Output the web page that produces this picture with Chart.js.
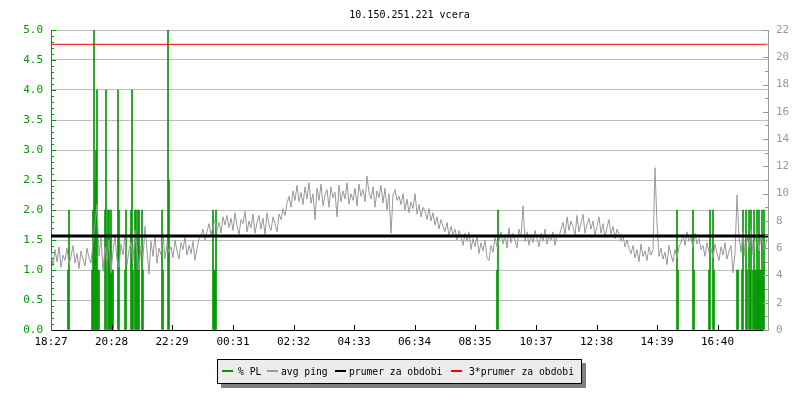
<!DOCTYPE html>
<html><head><meta charset="utf-8">
<script src="https://cdn.jsdelivr.net/npm/chart.js@4"></script>
<style>
html,body{margin:0;padding:0;background:#fff;}
#wrap{position:relative;width:800px;height:400px;}
#c{position:absolute;left:0;top:0;}
#legend{position:absolute;left:217px;top:359px;width:363px;height:23px;border:1px solid #000;background:#ececec;box-shadow:4px 4px 0 #808080;font:9.7px 'DejaVu Sans Mono',monospace;color:#000;}
.sw{position:absolute;top:10px;width:11px;height:2px;}
.tx{position:absolute;top:5px;line-height:13px;white-space:pre;}
</style></head>
<body>
<div id="wrap">
<canvas id="c" width="800" height="400"></canvas>
<div id="legend">
 <span class="sw" style="left:4px;background:#009900"></span><span class="tx" style="left:20px">% PL</span>
 <span class="sw" style="left:49px;background:#999999"></span><span class="tx" style="left:63px">avg ping</span>
 <span class="sw" style="left:117px;background:#000000"></span><span class="tx" style="left:131px">prumer za obdobi</span>
 <span class="sw" style="left:233px;background:#ff0000"></span><span class="tx" style="left:251px">3*prumer za obdobi</span>
</div>
</div>
<script>
// ---- data ----
const titleText = '10.150.251.221 vcera';
const xTickLabels = ['18:27','20:28','22:29','00:31','02:32','04:33','06:34','08:35','10:37','12:38','14:39','16:40'];
const spanMinutes = 1434;
const pingStepMinutes = 4;
const pingValues = [
 5.7,4.7,5.9,5.0,6.1,4.6,5.5,5.1,6.0,4.8,
 5.4,6.2,4.9,5.6,4.5,5.8,5.2,4.7,6.0,5.3,
 4.9,6.5,7.8,9.2,5.4,6.8,4.3,6.1,5.0,6.6,
 4.2,5.8,6.9,5.1,4.6,6.3,5.5,7.0,4.8,5.9,
 6.4,5.0,7.3,5.6,4.4,6.2,5.3,7.6,5.8,4.1,
 6.5,5.4,6.9,4.9,6.0,5.5,7.1,5.2,6.3,5.7,
 6.1,5.3,6.6,5.8,5.2,6.4,5.9,6.8,5.5,6.2,
 5.6,6.5,5.1,6.0,6.7,6.9,7.4,6.6,7.2,7.8,
 7.0,7.6,8.1,7.3,7.9,7.1,8.3,7.7,8.4,7.5,
 8.2,7.3,8.6,7.6,7.0,8.1,7.8,8.7,7.2,8.0,
 7.5,8.5,7.1,7.9,8.4,7.4,8.2,7.0,8.6,7.7,
 7.3,8.3,7.8,7.2,8.5,8.1,8.9,8.4,9.3,9.8,
 9.0,10.2,9.5,10.6,9.4,10.1,9.2,10.5,9.6,10.8,
 9.3,10.0,8.1,10.4,9.5,10.7,9.1,9.9,10.3,9.0,
 10.5,9.7,10.1,8.3,10.6,9.4,10.2,9.6,10.8,9.2,
 10.0,9.5,10.4,9.1,10.7,9.8,10.3,9.4,11.3,10.1,
 9.6,10.5,9.0,10.2,9.7,10.6,9.3,10.4,8.8,10.0,
 7.1,9.9,10.3,9.5,9.8,9.2,10.0,8.8,9.6,8.6,
 9.4,8.9,10.0,8.5,9.2,8.3,9.0,8.7,8.1,8.9,
 8.0,8.6,7.7,8.3,7.4,8.1,7.6,7.2,7.9,6.9,
 7.6,7.0,7.4,6.6,7.3,6.8,6.2,7.1,6.5,7.2,
 5.9,6.7,6.1,6.9,5.6,6.4,5.8,6.6,5.3,5.1,
 6.2,5.7,6.8,6.1,6.5,7.2,6.3,7.0,6.0,7.5,
 6.4,7.1,6.6,6.0,7.4,6.8,9.1,6.5,7.2,6.2,
 7.0,6.4,7.3,6.7,6.1,7.1,6.5,7.4,6.3,6.9,
 6.6,7.2,6.2,7.0,6.8,7.4,7.9,7.0,8.3,7.3,
 8.0,7.6,6.9,8.4,7.2,7.8,8.5,7.1,7.7,8.2,
 7.4,8.0,6.9,7.6,8.3,7.1,7.8,6.8,7.5,8.1,
 7.0,7.6,6.7,7.4,7.0,6.5,6.9,6.1,6.6,6.0,
 5.6,6.2,5.3,5.9,5.0,6.3,5.4,5.8,5.1,6.1,
 5.5,5.9,11.9,7.8,5.4,6.0,5.2,5.7,4.8,6.2,
 5.5,5.0,5.9,5.3,6.1,6.4,7.0,6.2,7.2,6.5,
 6.8,6.0,7.1,6.3,6.7,5.9,6.2,5.4,6.4,5.7,
 6.0,5.3,6.3,5.6,5.1,6.1,5.5,6.4,5.2,5.8,
 6.2,4.2,5.6,9.9,6.8,5.7,7.2,5.4,6.9,6.1,
 7.4,5.5,6.6,7.1,5.8,6.9,6.3,5.9,6.7
];
const plMinutes = [34,36,82,84,86,88,90,92,94,96,108,110,114,116,118,120,122,124,134,136,148,150,160,162,164,168,170,172,174,176,182,184,222,224,234,236,324,326,328,330,892,894,1252,1254,1284,1286,1316,1318,1324,1326,1372,1374,1382,1384,1390,1392,1396,1398,1400,1404,1406,1408,1410,1412,1414,1416,1418,1420,1422,1424,1426];
const plValues  = [1.0,2.0,1.0,2.0,5.0,2.5,3.0,4.0,1.0,1.0,2.0,4.0,2.0,2.0,1.5,2.0,1.0,1.0,4.0,2.0,1.0,2.0,2.0,4.0,1.0,2.0,2.0,1.0,2.0,2.0,2.0,1.0,2.0,1.0,5.0,2.5,2.0,1.0,1.0,2.0,1.0,2.0,2.0,1.0,2.0,1.0,1.0,2.0,2.0,1.0,1.0,1.0,1.0,2.0,2.0,1.0,2.0,1.0,2.0,1.0,2.0,1.0,1.0,2.0,1.0,2.0,1.0,1.0,2.0,1.0,2.0];
const avgPing = 6.9;
const avgPing3 = 20.95;

// ---- derived ----
const GREEN = '#009900', GRAY = '#999999', FONT = "'DejaVu Sans Mono', monospace";
function toMin(s){const p=s.split(':');return (+p[0])*60+(+p[1]);}
const t0 = toMin(xTickLabels[0]);
const tickMinutes = xTickLabels.map(s => (toMin(s)-t0+1440)%1440);

const innerTicks = {
  id:'innerTicks',
  afterDraw(chart){
    const ctx=chart.ctx, a=chart.chartArea, y=chart.scales.y, y1=chart.scales.y1, x=chart.scales.x;
    ctx.save(); ctx.lineWidth=1;
    ctx.strokeStyle=GREEN; ctx.beginPath();
    for(let k=1;k<=50;k++){
      const py=Math.round(y.getPixelForValue(k/10))+0.5, len=(k%5===0)?5:3;
      ctx.moveTo(a.left,py); ctx.lineTo(a.left+len,py);
    }
    ctx.stroke();
    ctx.strokeStyle=GRAY; ctx.beginPath();
    for(let k=0;k<=22;k++){
      const py=Math.round(y1.getPixelForValue(k))+0.5, len=(k%2===0)?5:3;
      ctx.moveTo(a.right,py); ctx.lineTo(a.right-len,py);
    }
    ctx.stroke();
    ctx.strokeStyle='#000'; ctx.beginPath();
    tickMinutes.forEach(m=>{ if(m===0) return;
      const px=Math.round(x.getPixelForValue(m))+0.5;
      ctx.moveTo(px,a.bottom); ctx.lineTo(px,a.bottom-5);
    });
    ctx.stroke();
    ctx.restore();
  }
};

new Chart(document.getElementById('c'), {
  type:'line',
  data:{datasets:[
    {type:'bar',label:'% PL',data:plMinutes.map((m,i)=>({x:m,y:plValues[i]})),backgroundColor:GREEN,barThickness:1,grouped:false,yAxisID:'y',order:4},
    {type:'line',label:'avg ping',data:pingValues.map((v,i)=>({x:i*pingStepMinutes,y:v})),borderColor:GRAY,borderWidth:1,pointRadius:0,tension:0,yAxisID:'y1',order:3},
    {type:'line',label:'prumer za obdobi',data:[{x:0,y:avgPing},{x:spanMinutes,y:avgPing}],borderColor:'#000',borderWidth:3,pointRadius:0,yAxisID:'y1',order:2},
    {type:'line',label:'3*prumer za obdobi',data:[{x:0,y:avgPing3},{x:spanMinutes,y:avgPing3}],borderColor:'#ff0000',borderWidth:1,pointRadius:0,yAxisID:'y1',order:1}
  ]},
  options:{
    responsive:false, animation:false, events:[],
    layout:{padding:0},
    plugins:{
      legend:{display:false}, tooltip:{enabled:false},
      title:{display:true,text:titleText,fullSize:false,color:'#000',font:{family:FONT,size:10,weight:'normal'},padding:{top:9,bottom:9}}
    },
    scales:{
      x:{type:'linear',min:0,max:spanMinutes,offset:false,
        grid:{display:false,drawTicks:false},border:{color:'#000'},
        afterBuildTicks:s=>{s.ticks=tickMinutes.map(v=>({value:v}));},
        ticks:{autoSkip:false,maxRotation:0,padding:6,color:'#000',font:{family:FONT,size:11},callback:v=>xTickLabels[tickMinutes.indexOf(v)]},
        afterFit:s=>{s.height=70;}},
      y:{type:'linear',position:'left',min:0,max:5,
        ticks:{stepSize:0.5,color:GREEN,padding:8,font:{family:FONT,size:11},callback:v=>v.toFixed(1)},
        grid:{color:c=>c.tick&&c.tick.value===0?'rgba(0,0,0,0)':'#bdbdbd',drawTicks:false},
        border:{color:GREEN},
        afterFit:s=>{s.width=51;}},
      y1:{type:'linear',position:'right',min:0,max:22,
        ticks:{stepSize:2,color:GRAY,padding:8,font:{family:FONT,size:11}},
        grid:{drawOnChartArea:false,drawTicks:false},
        border:{color:GRAY},
        afterFit:s=>{s.width=32;}}
    }
  },
  plugins:[innerTicks]
});
</script>
</body></html>
